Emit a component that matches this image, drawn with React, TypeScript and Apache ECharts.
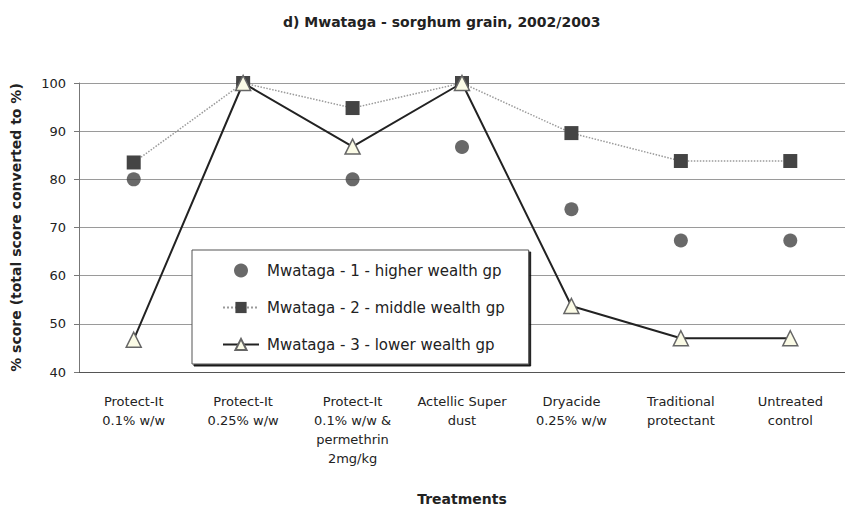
import React, { useEffect, useRef } from "react";
import * as echarts from "echarts";

const categories = [
  "Protect-It\n0.1% w/w",
  "Protect-It\n0.25% w/w",
  "Protect-It\n0.1% w/w &\npermethrin\n2mg/kg",
  "Actellic Super\ndust",
  "Dryacide\n0.25% w/w",
  "Traditional\nprotectant",
  "Untreated\ncontrol",
];
const seriesNames = [
  "Mwataga - 1 - higher wealth gp",
  "Mwataga - 2 - middle wealth gp",
  "Mwataga - 3 - lower wealth gp",
];
const higher = [80, 100, 80, 86.7, 73.8, 67.3, 67.3];
const middle = [83.5, 100, 94.8, 100, 89.6, 83.8, 83.8];
const lower = [46.7, 100, 86.8, 100, 53.7, 47, 47];
const yTicks = { min: 40, max: 100, interval: 10 };

const FONT = "'DejaVu Sans', 'Liberation Sans', Arial, sans-serif";

export default function App() {
  const ref = useRef<HTMLDivElement>(null);
  useEffect(() => {
    document.body.style.margin = "0";
    const chart = echarts.init(ref.current!, undefined, { renderer: "svg" });
    chart.setOption({
      animation: false,
      backgroundColor: "#ffffff",
      title: {
        text: "d) Mwataga - sorghum grain, 2002/2003",
        left: 278,
        top: 10,
        textStyle: { fontFamily: FONT, fontSize: 14, fontWeight: "bold", color: "#222" },
      },
      grid: { left: 79, top: 83, width: 777, height: 291 },
      legend: {
        orient: "vertical",
        left: 192,
        top: 250,
        padding: [13, 24, 12, 30],
        itemWidth: 36,
        itemHeight: 14,
        itemGap: 22,
        backgroundColor: "#ffffff",
        borderColor: "#555",
        borderWidth: 1,
        shadowColor: "rgba(0,0,0,0.9)",
        shadowOffsetX: 2,
        shadowOffsetY: 2,
        shadowBlur: 0,
        textStyle: { fontFamily: FONT, fontSize: 15, color: "#222", padding: [0, 0, 0, 3] },
        data: seriesNames,
      },
      xAxis: {
        type: "category",
        data: categories,
        boundaryGap: true,
        name: "Treatments",
        nameLocation: "middle",
        nameGap: 120,
        nameTextStyle: { fontFamily: FONT, fontSize: 14, fontWeight: "bold", color: "#222" },
        axisLine: { lineStyle: { color: "#555", width: 1 } },
        axisTick: { show: false },
        axisLabel: {
          fontFamily: FONT,
          fontSize: 13,
          color: "#222",
          lineHeight: 19,
          margin: 20,
          interval: 0,
        },
      },
      yAxis: {
        type: "value",
        min: yTicks.min,
        max: yTicks.max,
        interval: yTicks.interval,
        name: "% score (total score converted to %)",
        nameLocation: "middle",
        nameGap: 56,
        nameTextStyle: { fontFamily: FONT, fontSize: 14, fontWeight: "bold", color: "#222" },
        axisLine: { show: true, lineStyle: { color: "#777", width: 1 } },
        axisTick: { show: true, length: 5, lineStyle: { color: "#777" } },
        axisLabel: { fontFamily: FONT, fontSize: 13, color: "#222", margin: 13 },
        splitLine: { lineStyle: { color: "#9a9a9a", width: 1 } },
      },
      series: [
        {
          name: seriesNames[0],
          type: "scatter",
          data: higher,
          symbol: "circle",
          symbolSize: 14,
          itemStyle: { color: "#444" },
          z: 2,
        },
        {
          name: seriesNames[1],
          type: "line",
          data: middle,
          symbol: "rect",
          symbolSize: 14,
          showAllSymbol: true,
          itemStyle: { color: "#444" },
          lineStyle: { color: "#9a9a9a", width: 1.5, type: "dotted" },
          z: 3,
        },
        {
          name: seriesNames[2],
          type: "line",
          data: lower,
          symbol: "triangle",
          symbolSize: 15,
          showAllSymbol: true,
          itemStyle: { color: "#fbfbe6", borderColor: "#666", borderWidth: 1.5 },
          lineStyle: { color: "#222", width: 2 },
          z: 4,
        },
      ],
    });
    return () => chart.dispose();
  }, []);
  return <div ref={ref} style={{ width: 845, height: 511 }} />;
}
